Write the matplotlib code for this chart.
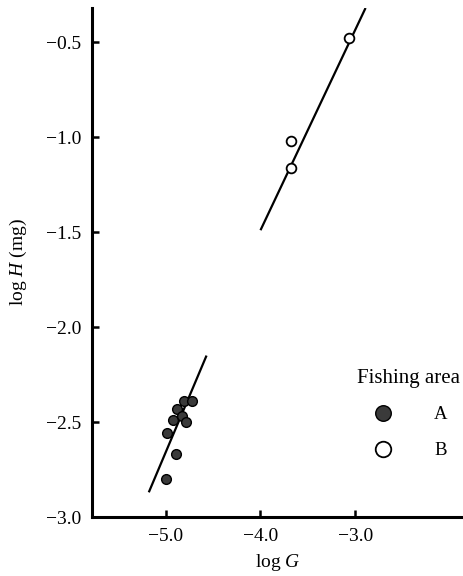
import matplotlib
matplotlib.use('Agg')
import matplotlib.pyplot as plt
import numpy as np

plt.rcParams['font.family'] = ['Liberation Serif', 'DejaVu Serif']
plt.rcParams['mathtext.fontset'] = 'custom'
plt.rcParams['mathtext.rm'] = 'Liberation Serif'
plt.rcParams['mathtext.it'] = 'Liberation Serif:italic'
plt.rcParams['axes.unicode_minus'] = True

# Fishing area A (filled circles)
a_log_g = [-4.81, -4.72, -4.88, -4.92, -4.83, -4.79, -4.99, -4.89, -5.00]
a_log_h = [-2.39, -2.39, -2.43, -2.49, -2.47, -2.50, -2.56, -2.67, -2.80]
a_fit_g = [-5.18, -4.57]
a_fit_h = [-2.87, -2.15]

# Fishing area B (open circles)
b_log_g = [-3.07, -3.68, -3.68]
b_log_h = [-0.48, -1.02, -1.16]
b_fit_g = [-4.0, -2.89]
b_fit_h = [-1.49, -0.32]

x_ticks = [-5.0, -4.0, -3.0]
y_ticks = [-3.0, -2.5, -2.0, -1.5, -1.0, -0.5]

fig = plt.figure(figsize=(4.64, 5.76), dpi=100)
ax = fig.add_axes([92 / 464, 59 / 576, 1 - 92 / 464, 509 / 576])

ax.plot(a_fit_g, a_fit_h, color='black', lw=1.6, solid_capstyle='butt')
ax.plot(b_fit_g, b_fit_h, color='black', lw=1.6, solid_capstyle='butt')

ha, = ax.plot(a_log_g, a_log_h, 'o', ms=7, mfc='#3a3a3a', mec='black',
              mew=1.0, ls='none', label='A', zorder=3)
hb, = ax.plot(b_log_g, b_log_h, 'o', ms=7, mfc='white', mec='black',
              mew=1.3, ls='none', label='B', zorder=3)

ax.set_xlim(-5.78, -1.85)
ax.set_ylim(-3.0, -0.32)

ax.spines['top'].set_visible(False)
ax.spines['right'].set_visible(False)
for s in ['left', 'bottom']:
    ax.spines[s].set_linewidth(2.2)

ax.set_xticks(x_ticks)
ax.set_yticks(y_ticks)
ax.set_xticklabels(['\u2212%.1f' % abs(v) for v in x_ticks])
ax.set_yticklabels(['\u2212%.1f' % abs(v) for v in y_ticks])
ax.tick_params(direction='in', length=5, width=1.8, labelsize=14, pad=8)

ax.set_xlabel(r'log $G$', fontsize=14, labelpad=5)
ax.set_ylabel(r'log $H$ (mg)', fontsize=14, labelpad=12)

ax.legend(handles=[ha, hb], title='Fishing area', loc='upper center',
          bbox_to_anchor=(0.85, 0.31), frameon=False, fontsize=13.5,
          title_fontsize=15, markerscale=1.6, handlelength=1.5,
          handletextpad=2.0, labelspacing=1.0, borderpad=0)

fig.savefig('out.png', dpi=100)
